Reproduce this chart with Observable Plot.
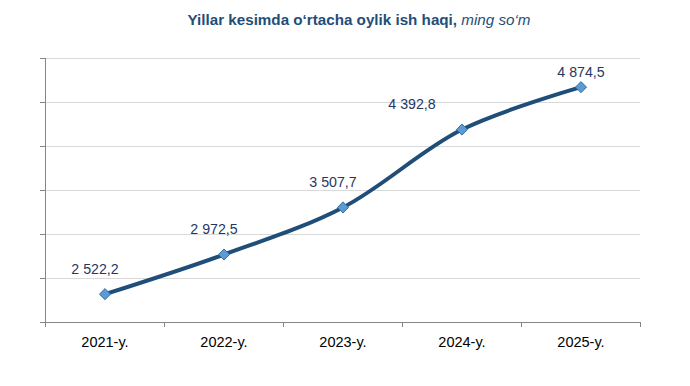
<!DOCTYPE html>
<html>
<head>
<meta charset="utf-8">
<script src="https://cdn.jsdelivr.net/npm/d3@7"></script>
<script src="https://cdn.jsdelivr.net/npm/@observablehq/plot@0.6"></script>
<style>
  body { margin: 0; background: #fff; font-family: "Liberation Sans", Arial, sans-serif; }
  #title { height: 40px; line-height: 40px; text-align: center; font-size: 15.2px; color: #1F4E79; padding-left: 28px; box-sizing: border-box; width: 690px; }
  #title b { font-weight: bold; }
  #title i { font-style: italic; color: #1F4E79; }
</style>
</head>
<body>
<div id="title"><b>Yillar kesimda o‘rtacha oylik ish haqi,</b> <i>ming so‘m</i></div>
<div id="chart"></div>
<script>
const categories = ["2021-y.", "2022-y.", "2023-y.", "2024-y.", "2025-y."];
const values = [2522.2, 2972.5, 3507.7, 4392.8, 4874.5];
const yTicks = [2200, 2700, 3200, 3700, 4200, 4700, 5200];

const data = categories.map((c, i) => ({ i, year: c, value: values[i] }));
const fmt = d3.formatLocale({ decimal: ",", thousands: " ", grouping: [3] }).format(",.1f");
const bounds = d3.range(categories.length + 1).map(k => k - 0.5);

const labelStyle = { fill: "#1F3864", fontSize: 14.2, fontFamily: "Liberation Sans, Arial, sans-serif" };

const chart = Plot.plot({
  width: 690,
  height: 346,
  marginTop: 18,
  marginBottom: 64,
  marginLeft: 45,
  marginRight: 50,
  x: { type: "linear", domain: [-0.5, categories.length - 0.5], label: null },
  y: { domain: [2200, 5200], label: null },
  style: { fontFamily: "Liberation Sans, Arial, sans-serif", background: "#fff" },
  marks: [
    Plot.gridY(yTicks, { stroke: "#d9d9d9", strokeOpacity: 1 }),
    Plot.axisY(yTicks, { tickSize: 5, tickFormat: () => "", stroke: "#868686", label: null }),
    Plot.ruleX([-0.5], { y1: 2200, y2: 5200, stroke: "#868686" }),
    Plot.ruleY([2200], { stroke: "#868686" }),
    Plot.axisX(bounds, { tickSize: 5, tickFormat: () => "", stroke: "#868686", label: null }),
    Plot.axisX(d3.range(categories.length), {
      tickSize: 0, tickPadding: 14, tickFormat: i => categories[i],
      fontSize: 14.5, fill: "#000", label: null
    }),
    Plot.line(data, { x: "i", y: "value", stroke: "#1F4E79", strokeWidth: 4, curve: "catmull-rom" }),
    Plot.dot(data, { x: "i", y: "value", symbol: "diamond2", r: 5, fill: "#5B9BD5", stroke: "#3A6E9E", strokeWidth: 1 }),
    Plot.text(data.filter(d => d.i < 3), { x: "i", y: "value", text: d => fmt(d.value), dx: -10, dy: -25, ...labelStyle }),
    Plot.text(data.filter(d => d.i === 3), { x: "i", y: "value", text: d => fmt(d.value), dx: -50, dy: -25, ...labelStyle }),
    Plot.text(data.filter(d => d.i === 4), { x: "i", y: "value", text: d => fmt(d.value), dx: 0, dy: -15, ...labelStyle })
  ]
});
document.getElementById("chart").appendChild(chart);
</script>
</body>
</html>
